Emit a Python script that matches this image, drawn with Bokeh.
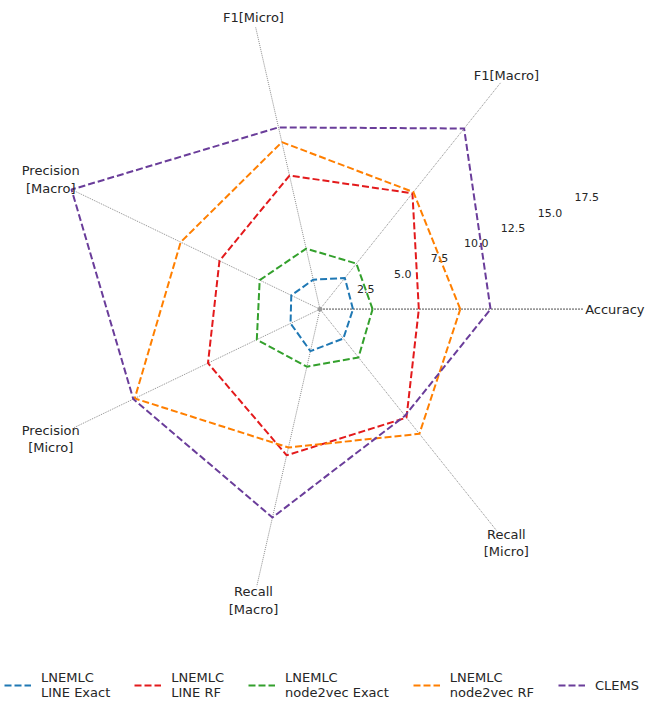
import numpy as np
from bokeh.plotting import figure
from bokeh.models import Range1d, Legend, LegendItem
from bokeh.core.properties import value
from bokeh.embed import file_html
from bokeh.resources import INLINE

# ---------------- data ----------------
metrics = ["Accuracy", "F1[Macro]", "F1[Micro]", "Precision\n[Macro]",
           "Precision\n[Micro]", "Recall\n[Macro]", "Recall\n[Micro]"]
series_labels = ["LNEMLC\nLINE Exact", "LNEMLC\nLINE RF", "LNEMLC\nnode2vec Exact",
                 "LNEMLC\nnode2vec RF", "CLEMS"]
line_exact = [2.07, 2.5, 1.9, 2.0, 2.05, 2.7, 2.35]
line_rf = [6.2, 9.3, 8.6, 7.0, 7.8, 9.4, 8.7]
n2v_exact = [3.3, 3.66, 3.9, 4.2, 4.4, 3.7, 3.87]
n2v_rf = [8.8, 9.4, 10.75, 9.7, 12.9, 8.9, 10.0]
clems = [10.7, 14.5, 11.7, 17.3, 13.0, 13.4, 8.55]
radial_ticks = [2.5, 5.0, 7.5, 10.0, 12.5, 15.0, 17.5]
radial_tick_labels = ["2.5", "5.0", "7.5", "10.0", "12.5", "15.0", "17.5"]

# ---------------- styling / layout ----------------
colors = ["#1f78b4", "#e31a1c", "#33a02c", "#ff7f00", "#6a3d9a"]
W, H = 645, 701
CX, CY = 319.5, 308.7      # centre in figure pixels (from top-left)
S = 15.94                  # pixels per unit
spoke_len = [16.55, 18.2, 18.14, 17.16, 17.16, 17.83, 17.77]
label_r = 18.75
tick_angle = np.deg2rad(22.5)
FONT = "DejaVu Sans"

p = figure(width=W, height=H, output_backend="svg", toolbar_location=None,
           x_axis_type=None, y_axis_type=None, min_border=0,
           x_range=Range1d(-CX / S, (W - CX) / S),
           y_range=Range1d(-(H - CY) / S, CY / S))
p.outline_line_color = None
p.background_fill_color = "white"
p.border_fill_color = "white"

n = len(metrics)
theta = np.arange(n) * 2 * np.pi / n

# spokes
sl = np.array(spoke_len)
p.segment(x0=np.zeros(n - 1), y0=np.zeros(n - 1),
          x1=(sl * np.cos(theta))[1:], y1=(sl * np.sin(theta))[1:],
          line_color="#808080", line_width=0.9, line_dash="1 1")
p.segment(x0=[0], y0=[0], x1=[sl[0]], y1=[0],
          line_color="#999999", line_width=1.8, line_dash="2 1")
p.scatter([0], [0], size=4, color="#999999")

# series
renderers = []
for vals, col in zip([line_exact, line_rf, n2v_exact, n2v_rf, clems], colors):
    v = np.array(vals + vals[:1])
    t = np.concatenate([theta, theta[:1]])
    r = p.line(v * np.cos(t), v * np.sin(t), line_color=col, line_width=2,
               line_dash="7 3")
    renderers.append(r)

# radial tick labels
rt = np.array(radial_ticks)
p.text(x=rt * np.cos(tick_angle) + 9 / S, y=rt * np.sin(tick_angle) + 5 / S,
       text=radial_tick_labels, text_font=value(FONT),
       text_font_size="11px", text_color="#262626",
       text_align="center", text_baseline="middle")

# category labels
p.text(x=[(W - 1 - CX) / S], y=[0], text=metrics[:1],
       text_font=value(FONT), text_font_size="13px",
       text_color="#262626", text_align="right", text_baseline="middle")
p.text(x=label_r * np.cos(theta[1:]), y=label_r * np.sin(theta[1:]), text=metrics[1:],
       text_font=value(FONT), text_font_size="13px",
       text_color="#262626", text_align="center", text_baseline="middle",
       text_line_height=1.15)

legend = Legend(items=[LegendItem(label=lab, renderers=[r])
                       for lab, r in zip(series_labels, renderers)],
                orientation="horizontal", location=(4, 1),
                glyph_width=27, glyph_height=20, label_standoff=10, spacing=24,
                padding=0, margin=0, border_line_color=None,
                background_fill_alpha=0,
                label_text_font=FONT, label_text_font_size="13px",
                label_text_color="#262626", label_text_line_height=1.15)
p.add_layout(legend)

open("out.html", "w").write(file_html(p, INLINE))
